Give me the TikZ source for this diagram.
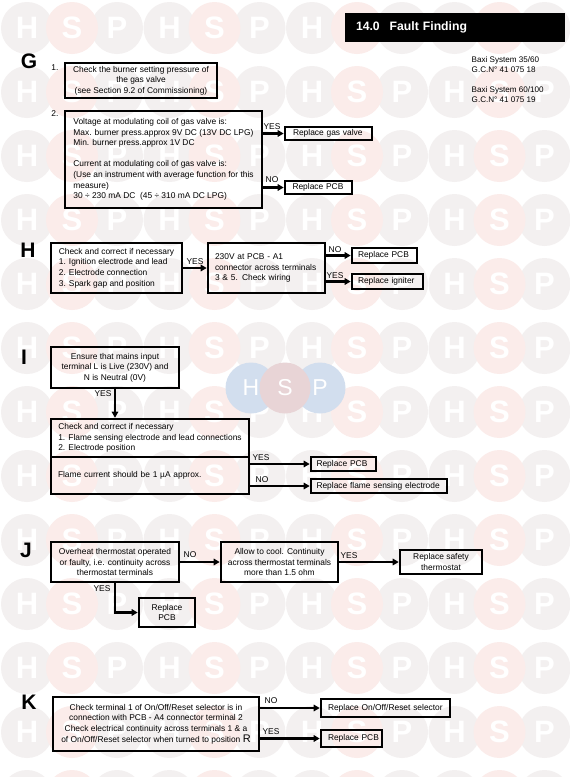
\documentclass[tikz,border=0pt]{standalone}
\usepackage{fontspec}
\setmainfont{Liberation Sans}
\usetikzlibrary{arrows.meta}
\definecolor{wmgray}{RGB}{243,240,240}
\definecolor{wmpink}{RGB}{251,236,234}
\definecolor{cblue}{RGB}{210,222,238}
\definecolor{cpink}{RGB}{232,212,214}
\newcommand{\txt}{\fontsize{8.4pt}{10.6pt}\selectfont}
\newcommand{\wmdisc}[4]{%
  \fill[#3] (#1,#2) circle[radius=26];
  \node[wmletter] at (#1,#2) {#4};}
\tikzset{
  x=1pt,y=-1pt,
  wmletter/.style={text=white,font=\fontsize{31pt}{31pt}\selectfont\bfseries,inner sep=0pt},
  cletter/.style={text=white,font=\fontsize{23pt}{23pt}\selectfont,inner sep=0pt},
  bx/.style={draw=black,line width=1.6pt,inner sep=0pt,font=\txt,align=center},
  lbx/.style={bx,align=left},
  side/.style={font=\fontsize{21pt}{21pt}\selectfont\bfseries,inner sep=0pt},
  yn/.style={font=\txt,inner sep=0pt},
  link/.style={line width=2.4pt,-{Triangle[length=6pt,width=6.5pt]},shorten >=0.5pt},
}
\begin{document}
\begin{tikzpicture}
\useasboundingbox (0,0) rectangle (570,777);
\fill[white] (0,0) rectangle (570,777);
% watermark grid
\foreach \r in {0,...,11}{
  \pgfmathsetmacro{\yy}{28+64*\r}
  \foreach \k in {0,1,2,3}{
    \pgfmathsetmacro{\xa}{27+142.5*\k}
    \pgfmathsetmacro{\xb}{72+142.5*\k}
    \pgfmathsetmacro{\xc}{117+142.5*\k}
    \wmdisc{\xa}{\yy}{wmgray}{H}
    \wmdisc{\xc}{\yy}{wmgray}{P}
    \wmdisc{\xb}{\yy}{wmpink}{S}
  }
}
% bottom row, only its upper edge is inside the page
\foreach \k in {0,1,2,3}{
  \pgfmathsetmacro{\xa}{27+142.5*\k}
  \pgfmathsetmacro{\xb}{72+142.5*\k}
  \pgfmathsetmacro{\xc}{117+142.5*\k}
  \fill[wmgray] (\xa,796) circle[radius=26];
  \fill[wmgray] (\xc,796) circle[radius=26];
  \fill[wmpink] (\xb,796) circle[radius=26];
}
% centre watermark
\fill[cblue] (251,388) circle[radius=25.5];
\fill[cblue] (320,388) circle[radius=25.5];
\fill[cpink] (285,388) circle[radius=25.5];
\node[cletter] at (251,388) {H};
\node[cletter] at (285,388) {S};
\node[cletter] at (320,388) {P};
% header
\node[fill=black,minimum width=220,minimum height=29,inner sep=0pt,text width=198,text=white,font=\fontsize{12.2pt}{14pt}\selectfont\bfseries] (head) at (455,27.5) {\raisebox{-4.5pt}{14.0\hspace{10pt}Fault Finding}};
\node[anchor=north west,inner sep=0pt,align=left,font=\fontsize{8.1pt}{10.2pt}\selectfont] (model) at (471.5,56.5) {Baxi System 35/60\\G.C.N° 41 075 18};
\node[anchor=north west,inner sep=0pt,align=left,font=\fontsize{8.1pt}{10.2pt}\selectfont] (modelb) at (471.5,86.5) {Baxi System 60/100\\G.C.N° 41 075 19};
% G
\node[side] (lg) at (29,61) {G};
\node[yn] (n1) at (55,68) {1.};
\node[yn] (n2) at (55,114) {2.};
\node[bx,minimum width=152,minimum height=35] (g1) at (141,80.5) {Check the burner setting pressure of\\the gas valve\\(see Section 9.2 of Commissioning)};
\node[lbx,minimum width=197,minimum height=97] (g2) at (163.5,159.5) {Voltage at modulating coil of gas valve is:\\Max. burner press.approx 9V DC (13V DC LPG)\\Min. burner press.approx 1V DC\\[10.6pt]Current at modulating coil of gas valve is:\\(Use an instrument with average function for this\\measure)\\30 ÷ 230 mA DC\ \ (45 ÷ 310 mA DC LPG)};
\node[lbx,minimum width=87,minimum height=13,text width=71] (g3) at (328.5,133.5) {\mbox{Replace gas valve}};
\node[lbx,minimum width=67,minimum height=13,text width=52] (g4) at (318.5,187.5) {\mbox{Replace PCB}};
\draw[link] (g2.east |- g3.west) -- (g3.west);
\draw[link] (g2.east |- g4.west) -- (g4.west);
\node[yn] (gy) at (272,126.5) {YES};
\node[yn] (gn) at (272,179.5) {NO};
% H
\node[side] (lh) at (28,250) {H};
\node[lbx,minimum width=131,minimum height=50] (h1) at (116.5,268) {Check and correct if necessary\\1. Ignition electrode and lead\\2. Electrode connection\\3. Spark gap and position};
\node[lbx,minimum width=117,minimum height=50,text width=103] (h2) at (266.5,268) {230V at PCB - A1\\\mbox{connector across terminals}\\3 \& 5. Check wiring};
\node[lbx,minimum width=65,minimum height=15,text width=53] (h3) at (384.5,255.5) {\mbox{Replace PCB}};
\node[lbx,minimum width=71,minimum height=15,text width=59] (h4) at (387.5,281.5) {\mbox{Replace igniter}};
\draw[link] (h1.east |- h2.west) -- (h2.west);
\draw[link] (h2.east |- h3.west) -- (h3.west);
\draw[link] (h2.east |- h4.west) -- (h4.west);
\node[yn] (hy) at (195,262) {YES};
\node[yn] (hn) at (335,250) {NO};
\node[yn] (hy2) at (335,276) {YES};
% I
\node[side] (li) at (24,357) {I};
\node[bx,minimum width=128,minimum height=41] (i1) at (115,367.5) {Ensure that mains input\\terminal L is Live (230V) and\\N is Neutral (0V)};
\node[lbx,minimum width=198,minimum height=38] (i2) at (150,438) {Check and correct if necessary\\1. Flame sensing electrode and lead connections\\2. Electrode position};
\node[lbx,minimum width=198,minimum height=37,text width=184] (i3) at (150,475.5) {Flame current should be 1 µA approx.};
\node[lbx,minimum width=65,minimum height=14,text width=54] (i4) at (343.5,464) {\mbox{Replace PCB}};
\node[lbx,minimum width=136,minimum height=14,text width=125] (i5) at (379,486) {\mbox{Replace flame sensing electrode}};
\draw[link] (i1.south) -- (i1.south |- i2.north);
\draw[link] (i3.east |- i4.west) -- (i4.west);
\draw[link] (i3.east |- i5.west) -- (i5.west);
\node[yn] (iy) at (103,394) {YES};
\node[yn] (iy2) at (261,457.5) {YES};
\node[yn] (in) at (262,480) {NO};
% J
\node[side] (lj) at (26,550) {J};
\node[bx,minimum width=128,minimum height=40] (j1) at (115,562) {Overheat thermostat operated\\or faulty, i.e. continuity across\\thermostat terminals};
\node[bx,minimum width=117,minimum height=40] (j2) at (279.5,562) {Allow to cool. Continuity\\across thermostat terminals\\more than 1.5 ohm};
\node[bx,minimum width=82,minimum height=24] (j3) at (441,562) {Replace safety\\thermostat};
\node[bx,minimum width=56,minimum height=29] (j4) at (167,612.5) {Replace\\PCB};
\draw[link] (j1.east) -- (j2.west);
\draw[link] (j2.east) -- (j3.west);
\draw[link] (j1.south) |- (j4.west);
\node[yn] (jn) at (190,555) {NO};
\node[yn] (jy) at (349,556) {YES};
\node[yn] (jy2) at (102,589) {YES};
% K
\node[side] (lk) at (29,702) {K};
\node[bx,minimum width=206,minimum height=54] (k1) at (156,724) {Check terminal 1 of On/Off/Reset selector is in\\connection with PCB - A4 connector terminal 2\\Check electrical continuity across terminals 1 \& a\\of On/Off/Reset selector when turned to position {\fontsize{11pt}{10.6pt}\selectfont R}};
\node[lbx,minimum width=129,minimum height=18,text width=115] (k2) at (385.5,708) {\mbox{Replace On/Off/Reset selector}};
\node[lbx,minimum width=61,minimum height=17,text width=47] (k3) at (351.5,738.5) {\mbox{Replace PCB}};
\draw[link] (k1.east |- k2.west) -- (k2.west);
\draw[link] (k1.east |- k3.west) -- (k3.west);
\node[yn] (kn) at (271,701) {NO};
\node[yn] (ky) at (271,732) {YES};
\end{tikzpicture}
\end{document}
